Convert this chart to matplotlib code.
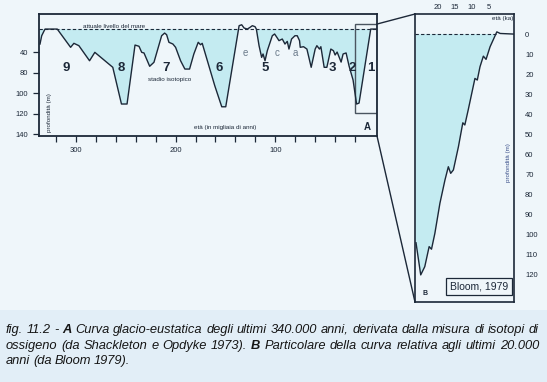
import numpy as np
import matplotlib.pyplot as plt
from matplotlib.patches import Rectangle, ConnectionPatch

plt.rcParams['font.family'] = ['Liberation Sans', 'DejaVu Sans']

# --- panel A: curve of the last 340 ka (age in ka, depth as read on the printed axis)
age_a = [336, 334.3, 331, 318.7, 305.3, 302, 297, 286.3, 281, 263, 254.3, 248.7,
         240.7, 236.7, 234, 231.7, 226, 221.7, 214, 211, 209, 206.7, 202.7, 200,
         195, 190.7, 186, 181.7, 177.3, 175, 173.3, 160.7, 153.7, 149.7, 136.3,
         133.7, 131.3, 128, 125.3, 123, 120.3, 119, 116.3, 113.7, 112.3, 110.3,
         108, 103, 100.7, 98, 96.3, 93, 90.3, 88, 86.3, 83.7, 80.3, 78, 75.7, 75,
         71.7, 68.3, 64, 60, 58.3, 55.7, 54.3, 51, 48.3, 44.3, 41.7, 40, 38, 36,
         34, 32, 29, 26, 22, 18.5, 16, 4.3, -2]
depth_a = [52.2, 44.1, 37.6, 37.6, 55.4, 51.5, 53.8, 68.5, 60.3, 74.9, 110.7, 110.7,
           53.2, 54.4, 60.3, 60.9, 73.9, 70.0, 44.1, 41.5, 43.1, 50.5, 52.2, 55.4,
           68.5, 76.6, 76.6, 61.9, 50.5, 52.9, 51.5, 92.9, 113.4, 113.4, 34.3,
           33.4, 36.6, 37.6, 35.9, 34.3, 35.3, 37.6, 53.8, 65.2, 61.9, 68.5,
           58.7, 44.1, 42.4, 46.3, 48.9, 47.3, 52.2, 49.6, 57.1, 47.3, 44.1, 44.1, 48.9, 55.4,
           54.8, 57.1, 74.9, 57.1, 53.8, 57.1, 54.8, 74.9, 74.9, 57.1, 58.7, 62.9, 60.0, 64.9,
           69.8, 61.9, 60.9, 73.7, 87.3, 110.7, 109.8, 37.6, 37.6]
sea_a = 37.6

stage_names = ['9', '8', '7', '6', '5', '3', '2', '1']
stage_ages = [310, 255, 210, 156, 110, 43, 22.5, 4.3]
substage_names = ['e', 'c', 'a']
substage_ages = [130, 98, 80]

a_yticks = [60, 80, 100, 120, 140]
a_ylabels = ['40', '80', '100', '120', '140']
a_xticks = list(range(20, 321, 20))

# --- panel B: detail of the last ~20 ka (Bloom 1979)
age_b = [26.6, 25.2, 24.0, 22.7, 22.0, 21.0, 19.5, 18.0, 17.0, 16.3, 15.5, 14.0,
         12.7, 12.1, 11.1, 9.1, 8.4, 7.6, 6.6, 5.8, 4.6, 2.6, 1.6, -2.4]
depth_b = [104, 120, 115.9, 105.9, 107.2, 99.3, 84.3, 72.7, 66.1, 69.4, 67.7, 56.1,
           44.2, 45.3, 37.8, 22.1, 22.9, 16.3, 11.0, 12.6, 6.3, -1.1, -0.3, 0]
b_xticks = [20, 15, 10, 5]
b_yticks = list(range(0, 121, 10))

caption = [
    "fig. 11.2 - **A** Curva glacio-eustatica degli ultimi 340.000 anni, derivata dalla misura di isotopi di",
    "ossigeno (da Shackleton e Opdyke 1973). **B** Particolare della curva relativa agli ultimi 20.000",
    "anni (da Bloom 1979).",
]

bg = '#eff6fa'
fill_c = '#c4ebf1'
ink = '#1c2838'

W, H = 547, 382
fig = plt.figure(figsize=(W / 100, H / 100), dpi=100, facecolor=bg)
fig.add_artist(Rectangle((0, 0), 1, 1 - 310 / H, transform=fig.transFigure,
                         color='#e2eef7', lw=0, zorder=0))

# ---------------- panel A
axA = fig.add_axes([39 / W, 1 - 136 / H, 338 / W, 122 / H])
axA.set_facecolor('none')
axA.fill_between(age_a, sea_a, depth_a, where=np.array(depth_a) >= sea_a,
                 interpolate=True, color=fill_c, lw=0)
axA.axhline(sea_a, color=ink, ls=(0, (3, 2)), lw=0.8)
axA.plot(age_a, depth_a, color=ink, lw=1.0)
axA.set_xlim(337, -2)
axA.set_ylim(141.9, 22.9)
for s in axA.spines.values():
    s.set_linewidth(1.3)
    s.set_color(ink)
axA.set_yticks(a_yticks, a_ylabels)
axA.set_xticks(a_xticks, [str(t) if t % 100 == 0 else '' for t in a_xticks])
axA.tick_params(axis='both', direction='out', length=4, width=0.9,
                labelsize=5.5, colors=ink, pad=4)

for n, x in zip(stage_names, stage_ages):
    axA.text(x, 76, n, ha='center', va='center', fontsize=9.5,
             fontweight='bold', color=ink)
for n, x in zip(substage_names, substage_ages):
    axA.text(x, 61, n, ha='center', va='center', fontsize=7, color='#6a7a8a')
axA.text(206, 87, 'stadio isotopico', ha='center', va='center', fontsize=4.5, color=ink)
axA.text(262, sea_a - 0.5, 'attuale livello del mare', ha='center', va='bottom',
         fontsize=4.5, color=ink)
axA.text(0.55, 0.068, 'età (in migliaia di anni)', transform=axA.transAxes,
         ha='center', va='center', fontsize=4.5, color=ink)
axA.text(0.97, 0.076, 'A', transform=axA.transAxes, ha='center', va='center',
         fontsize=7, fontweight='bold', color=ink)
axA.text(0.03, 0.19, 'profondità (m)', transform=axA.transAxes, rotation=90,
         ha='center', va='center', fontsize=4.5, color=ink)

# zoom box on the last 20 ka
axA.add_patch(Rectangle((-2, 32.7), 22, 86.8, fill=False, ec='#4a5560', lw=1.0))

# ---------------- panel B
axB = fig.add_axes([415 / W, 1 - 302 / H, 99 / W, 288 / H])
axB.set_facecolor('none')
axB.fill_between(age_b, 0, depth_b, where=np.array(depth_b) >= 0,
                 interpolate=True, color=fill_c, lw=0)
b_cross = np.interp(0.0, depth_b[-4:][::-1][1:], age_b[-4:][::-1][1:])
axB.hlines(0, 26.9, b_cross, color=ink, ls=(0, (3, 2)), lw=0.8)
axB.plot(age_b, depth_b, color=ink, lw=1.0)
axB.set_xlim(26.9, -2.5)
axB.set_ylim(133.5, -10)
for s in axB.spines.values():
    s.set_linewidth(1.2)
    s.set_color(ink)
axB.xaxis.tick_top()
axB.yaxis.tick_right()
axB.set_xticks(b_xticks, [str(t) for t in b_xticks])
axB.set_yticks(b_yticks, [str(t) for t in b_yticks])
axB.tick_params(axis='x', length=0, labelsize=5.5, colors=ink, pad=2)
axB.tick_params(axis='y', length=0, labelsize=5.5, colors=ink, pad=8)
axB.text(0.89, 0.983, 'età (ka)', transform=axB.transAxes, ha='center',
         va='center', fontsize=4.5, color=ink)
axB.text(0.94, 0.483, 'profondità (m)', transform=axB.transAxes, rotation=90,
         ha='center', va='center', fontsize=4.5, color='#3a4f8a')
axB.text(0.645, 0.054, 'Bloom, 1979', transform=axB.transAxes, ha='center',
         va='center', fontsize=7.5, color=ink,
         bbox=dict(boxstyle='square,pad=0.35', fc='none', ec=ink, lw=0.9))
axB.text(0.10, 0.03, 'B', transform=axB.transAxes, ha='center', va='center',
         fontsize=5, fontweight='bold', color=ink)

# connector lines between the zoom box and panel B
for xyA, cA, xyB in [((-2, 32.7), axA.transData, (0, 1)),
                     ((1, 0), axA.transAxes, (0, 0))]:
    fig.add_artist(ConnectionPatch(xyA=xyA, coordsA=cA, xyB=xyB,
                                   coordsB=axB.transAxes, color=ink, lw=1.0))

# ---------------- caption, justified like the printed page
renderer = fig.canvas.get_renderer()
x0, x1 = 6, 539
baselines = [333, 349, 364]
for li, (line, yb) in enumerate(zip(caption, baselines)):
    words = line.split(' ')
    arts = []
    for w in words:
        bold = w.startswith('**')
        t = fig.text(0, 1 - yb / H, w.strip('*'), fontsize=9.3, style='italic',
                     fontweight='bold' if bold else 'normal', color='#151515',
                     ha='left', va='baseline')
        arts.append(t)
    widths = [a.get_window_extent(renderer).width for a in arts]
    if li < len(caption) - 1:
        gap = (x1 - x0 - sum(widths)) / (len(words) - 1)
    else:
        gap = 2.8
    x = x0
    for a, w in zip(arts, widths):
        a.set_x(x / W)
        x += w + gap

fig.savefig('out.png', dpi=100, facecolor=bg)
